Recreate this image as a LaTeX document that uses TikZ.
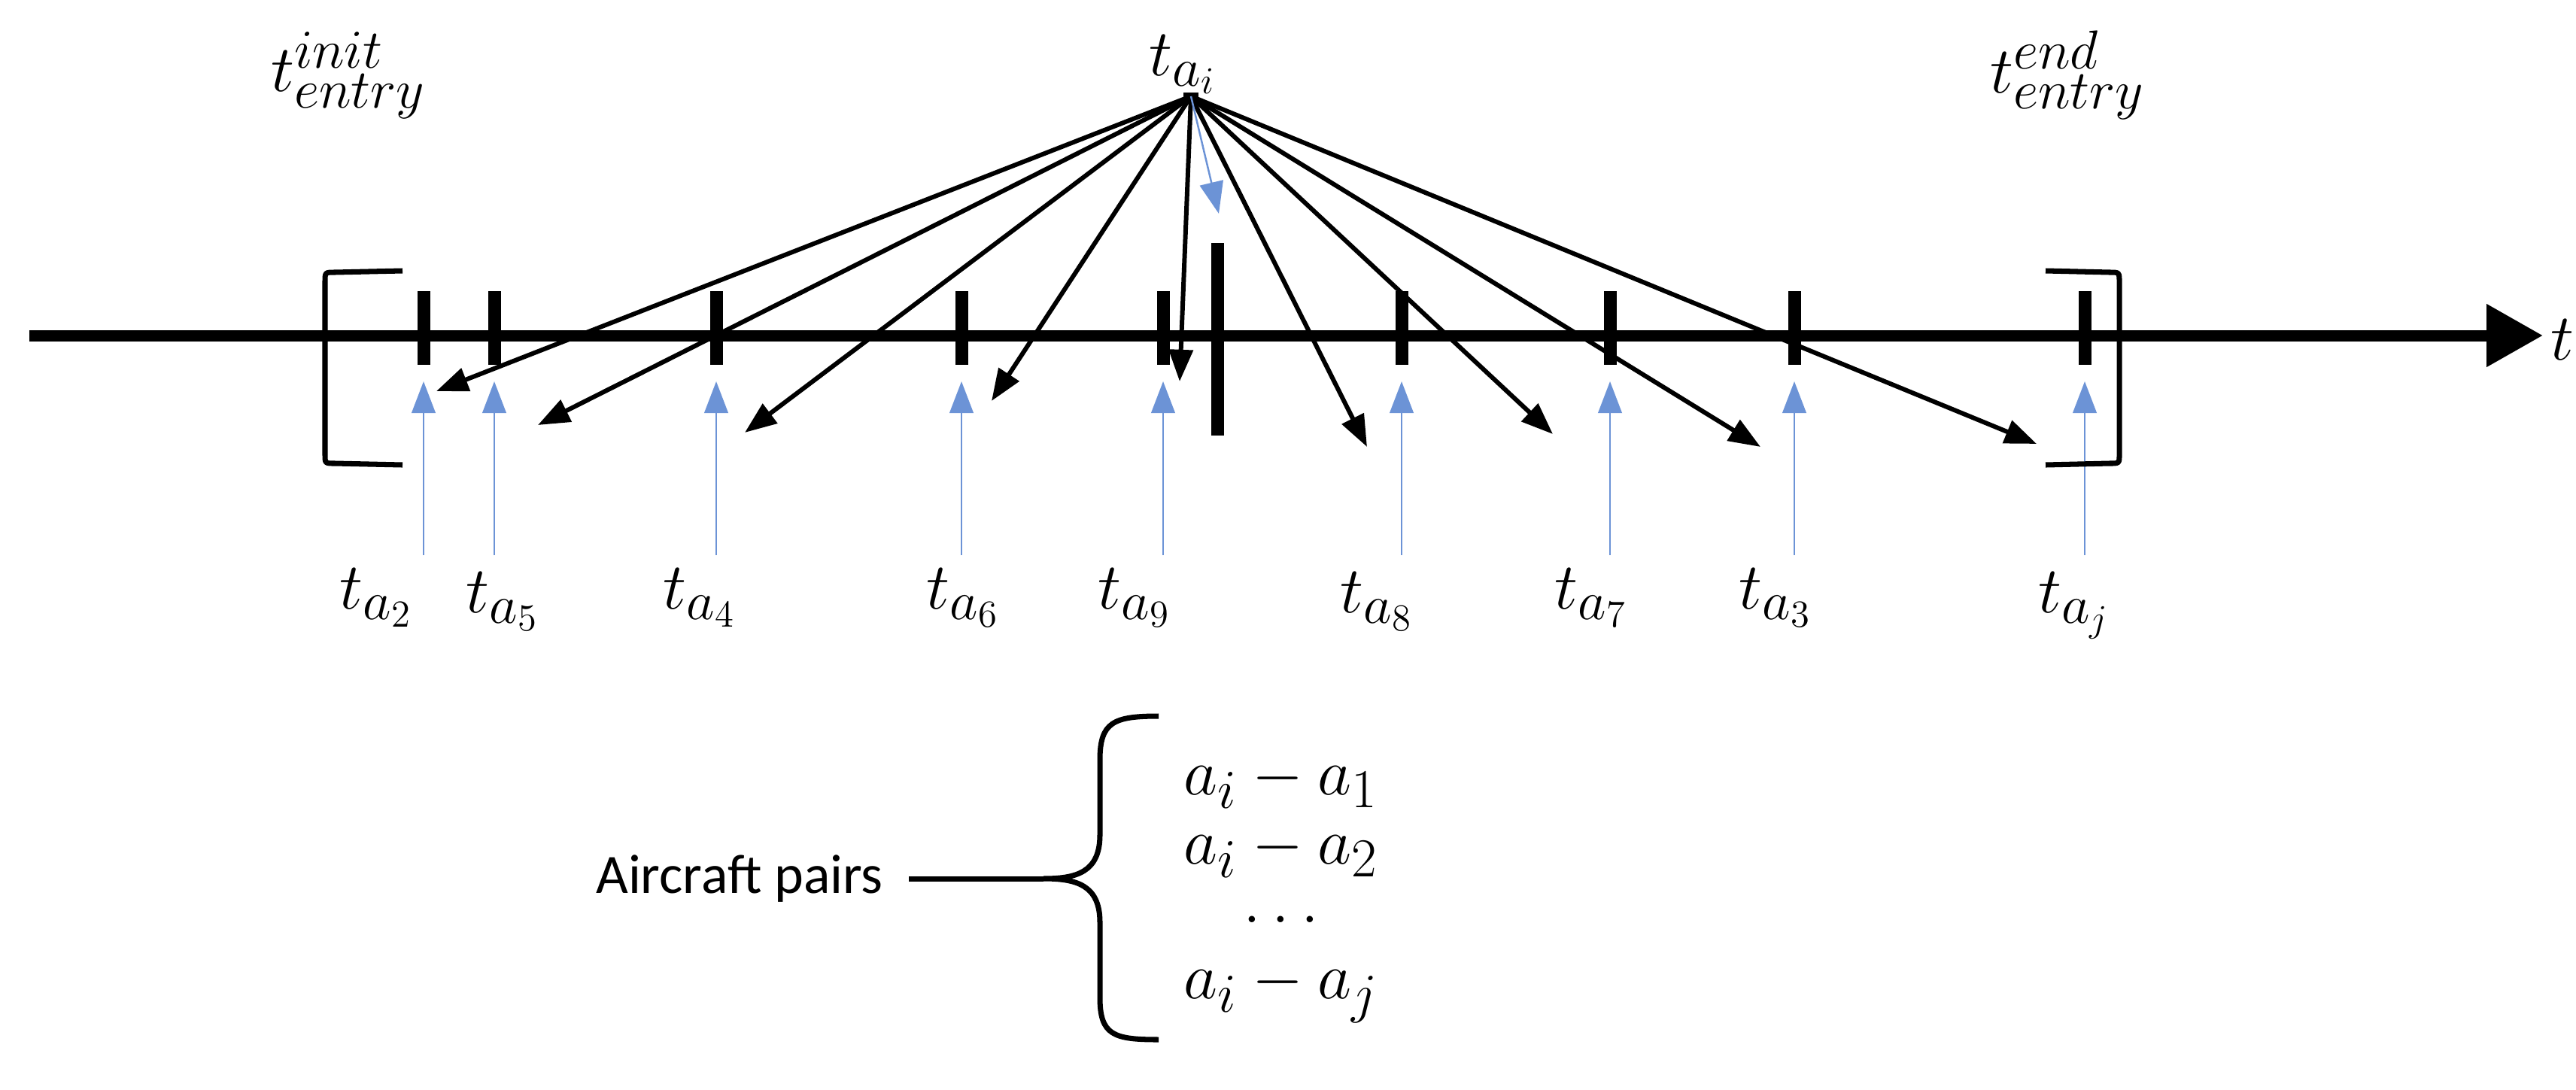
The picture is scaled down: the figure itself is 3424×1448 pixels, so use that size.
\documentclass[tikz,border=0pt]{standalone}
\usepackage{fontspec}
\setmainfont{Carlito}
\usetikzlibrary{arrows.meta}
\definecolor{bl}{HTML}{6C93D6}
\begin{document}
\begin{tikzpicture}[x=0.01cm,y=-0.01cm,
  tk/.style={line width=0.17cm},
  blk/.style={line width=1.7pt,-{Triangle[length=12pt,width=9pt]}},
  blu/.style={draw=bl,line width=0.7pt,-{Triangle[length=12pt,width=9pt]},color=bl},
  lab/.style={font=\fontsize{30}{34}\selectfont,inner sep=0pt},
  brk/.style={line width=2pt}]
\useasboundingbox (0,0) rectangle (3424,1448);
% axis
\coordinate (A0) at (39,446);
\coordinate (A1) at (3380,446);
\draw[line width=0.15cm,-{Triangle[length=0.75cm,width=0.8cm]}] (A0) -- (A1);
\node[lab,anchor=west] (tl) at (3390,452) {$t$};
% ticks
\foreach \n/\x in {2/563,5/657,4/952,6/1278,9/1546,8/1863,7/2140,3/2385,j/2771}{
  \coordinate (top\n) at (\x,387); \coordinate (bot\n) at (\x,485);
  \draw[tk] (top\n) -- (bot\n);
  \coordinate (bs\n) at (\x,738); \coordinate (be\n) at (\x,507);
  \draw[blu] (bs\n) -- (be\n);
}
\coordinate (bigt) at (1618,323); \coordinate (bigb) at (1618,579);
\draw[tk] (bigt) -- (bigb);
% labels
\node[lab] (l2) at (500,795) {$t_{a_2}$};
\node[lab] (l5) at (668,800) {$t_{a_5}$};
\node[lab] (l4) at (930,795) {$t_{a_4}$};
\node[lab] (l6) at (1280,795) {$t_{a_6}$};
\node[lab] (l9) at (1508,795) {$t_{a_9}$};
\node[lab] (l8) at (1830,800) {$t_{a_8}$};
\node[lab] (l7) at (2115,795) {$t_{a_7}$};
\node[lab] (l3) at (2360,795) {$t_{a_3}$};
\node[lab] (lj) at (2757,805) {$t_{a_j}$};
% hub
\node[lab] (hl) at (1572,86) {$t_{a_i}$};
\node[fill=black,minimum width=0.2cm,minimum height=0.1cm,inner sep=0pt] (hub) at (1583,128) {};
\foreach \n/\x/\y in {e2/580/520,e5/715/565,e4/990/575,e6/1318/533,e9/1568/507,e8/1817/594,e7/2064/577,e3/2340/594,ej/2707/590}{
  \coordinate (\n) at (\x,\y);
  \draw[blk] (hub.center) -- (\n);
}
\coordinate (eb) at (1620,284);
\draw[blu] (hub.center) -- (eb);
% brackets
\coordinate (L1) at (535,360); \coordinate (L2) at (535,618);
\draw[brk] (L1) -- (445,362) .. controls (432,362) .. (432,375) -- (432,604) .. controls (432,616) .. (445,616) -- (L2);
\coordinate (R1) at (2719,360); \coordinate (R2) at (2719,618);
\draw[brk] (R1) -- (2804,362) .. controls (2817,362) .. (2817,375) -- (2817,604) .. controls (2817,616) .. (2804,616) -- (R2);
\node[lab] (ti) at (463,100) {$t^{init}_{entry}$};
\node[lab] (te) at (2748,100) {$t^{end}_{entry}$};
% brace
\coordinate (tip) at (1387,1168);
\draw[brk] (1540,952) .. controls (1480,952) and (1462,960) .. (1462,1010) -- (1462,1110) .. controls (1462,1160) and (1430,1168) .. (tip) .. controls (1430,1168) and (1462,1176) .. (1462,1226) -- (1462,1326) .. controls (1462,1376) and (1480,1382) .. (1540,1382);
\node[font=\fontsize{21}{25}\selectfont,inner sep=0pt] (ap) at (983,1168) {Aircraft pairs};
\coordinate (apx) at (1208,1168);
\draw[brk] (apx) -- (tip);
\node[lab] (p1) at (1703,1040) {$a_i-a_1$};
\node[lab] (p2) at (1703,1132) {$a_i-a_2$};
\node[lab] (p3) at (1703,1222) {$\ldots$};
\node[lab] (p4) at (1703,1318) {$a_i-a_j$};
\end{tikzpicture}
\end{document}
